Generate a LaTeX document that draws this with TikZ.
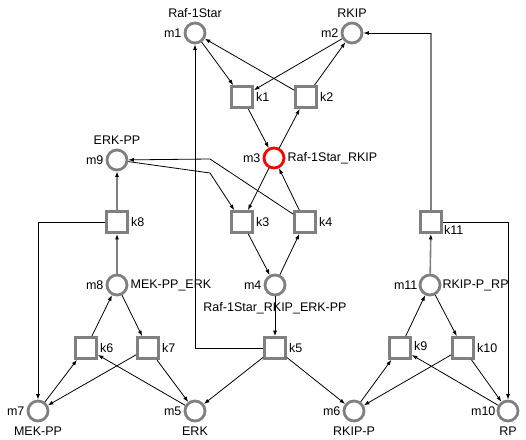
\documentclass[tikz,border=0pt]{standalone}
\usepackage{fontspec}
\setmainfont{Liberation Sans}
\usetikzlibrary{arrows.meta}

\begin{document}
\begin{tikzpicture}[x=1pt,y=-1pt,
        font=\fontsize{12.5}{14}\selectfont,
        >={Latex[length=5.5pt,width=4pt]},
        mnode/.style={circle,draw=gray,line width=2.8pt,minimum size=20pt,inner sep=0pt},
        knode/.style={rectangle,draw=gray,line width=2.8pt,minimum size=21pt,inner sep=0pt},
        flow/.style={->,line width=0.8pt},
        grayflow/.style={-{Latex[length=5.5pt,width=4pt,black]},gray,line width=1.6pt},
        every label/.style={inner sep=1pt},
        label distance=1pt]
        \useasboundingbox (0,0) rectangle (526,439);
        % places
        \node[mnode,label=left:m1,label={[label distance=3pt]above:Raf-1Star}] (m1) at (195,33) {};
        \node[mnode,label=left:m2,label={[label distance=3pt]above:RKIP}] (m2) at (352,33) {};
        \node[mnode,draw=red,label=left:m3,label=right:Raf-1Star\_RKIP] (m3) at (274,158) {};
        \node[mnode,label=left:m4,label={[label distance=5pt]below:Raf-1Star\_RKIP\_ERK-PP}] (m4) at (275,285) {};
        \node[mnode,label=left:m5,label={[label distance=3pt]below:ERK}] (m5) at (195,411) {};
        \node[mnode,label=left:m6,label={[label distance=3pt]below:RKIP-P}] (m6) at (354,411) {};
        \node[mnode,label=left:m7,label={[label distance=3pt]below:MEK-PP}] (m7) at (38,411) {};
        \node[mnode,label=left:m8,label=right:MEK-PP\_ERK] (m8) at (117,285) {};
        \node[mnode,label=left:m9,label={[label distance=3pt]above:ERK-PP}] (m9) at (117,160) {};
        \node[mnode,label={[label distance=0pt]left:m10},label={[label distance=3pt]below:RP}] (m10) at (508,411) {};
        \node[mnode,label={[label distance=0pt]left:m11},label={[label distance=0pt]right:RKIP-P\_RP}] (m11) at (430,285) {};
        % transitions
        \node[knode,label=right:k1] (k1) at (242,97) {};
        \node[knode,label=right:k2] (k2) at (306,97) {};
        \node[knode,label=right:k3] (k3) at (242,222) {};
        \node[knode,label=right:k4] (k4) at (305,222) {};
        \node[knode,label=right:k5] (k5) at (275,348) {};
        \node[knode,label=right:k6] (k6) at (86,348) {};
        \node[knode,label=right:k7] (k7) at (148,348) {};
        \node[knode,label=right:k8] (k8) at (117,222) {};
        \node[knode,label={[yshift=2pt]right:k9}] (k9) at (400,348) {};
        \node[knode,label=right:k10] (k10) at (463,348) {};
        \node[knode,label={[yshift=-8pt,label distance=0pt]right:k11}] (k11) at (431,222) {};
        % bends
        \coordinate (b1) at (210,159);
        \coordinate (b2) at (210,173);
        \coordinate (c11) at (k11 |- m2);
        % arcs
        \draw[flow] (m1) -- (k1);
        \draw[flow] (m2) -- (k1);
        \draw[flow] (k1) -- (m3);
        \draw[flow] (m3) -- (k2);
        \draw[flow] (k2) -- (m1);
        \draw[flow] (k2) -- (m2);
        \draw[flow] (m3) -- (k3);
        \draw[flow] (k4) -- (m3);
        \draw[flow] (k3) -- (m4);
        \draw[flow] (m4) -- (k4);
        \draw[flow] (m4) -- (k5);
        \draw[flow] (k4) -- (b1) -- (m9);
        \draw[flow] (m9) -- (b2) -- (k3);
        \draw[flow] (k5) -| (m1);
        \draw[flow] (k5) -- (m5);
        \draw[flow] (k5) -- (m6);
        \draw[grayflow] (m8) -- (k8);
        \draw[grayflow] (k8) -- (m9);
        \draw[flow] (k8) -| (m7);
        \draw[flow] (m7) -- (k6);
        \draw[flow] (k6) -- (m8);
        \draw[flow] (m8) -- (k7);
        \draw[flow] (k7) -- (m7);
        \draw[flow] (k7) -- (m5);
        \draw[flow] (m5) -- (k6);
        \draw[flow] (m6) -- (k9);
        \draw[flow] (k9) -- (m11);
        \draw[flow] (m11) -- (k10);
        \draw[flow] (k10) -- (m6);
        \draw[flow] (k10) -- (m10);
        \draw[flow] (m10) -- (k9);
        \draw[grayflow] (m11) -- (k11);
        \draw[gray,line width=1.6pt] (k11) -- (c11);
        \draw[flow] (c11) -- (m2);
        \draw[flow] (k11) -| (m10);
\end{tikzpicture}
\end{document}
